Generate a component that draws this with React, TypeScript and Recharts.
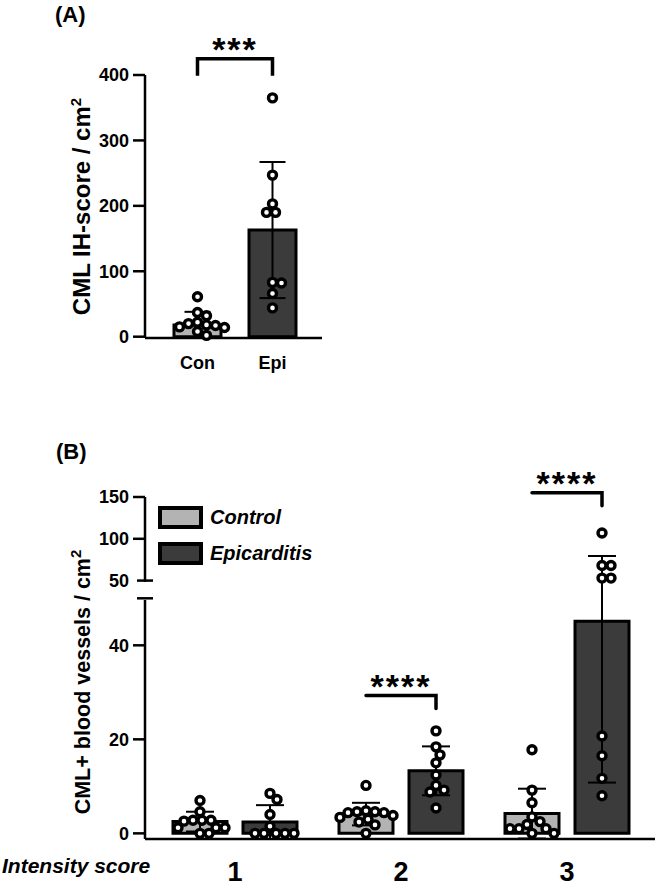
import React from 'react';
import { ComposedChart, Bar, Cell, ErrorBar, Scatter, XAxis, YAxis, ReferenceLine, Legend } from 'recharts';

const FONT = '"Liberation Sans", Arial, Helvetica, sans-serif';

// ---------- (A) CML IH-score ----------
const aGroups = ['Con', 'Epi'];
const aMeans = [18, 163];
const aSD = [20, 104];
const aCon = [61, 37, 32, 22, 20, 18, 17, 15, 14, 8, 2];
const aEpi = [365, 247, 203, 190, 190, 83, 82, 66, 44];
const aTicks = [0, 100, 200, 300, 400];
const aSigFrom = 'Con';
const aSigTo = 'Epi';
const aSigY = 425;
const aSigLabel = '***';

// ---------- (B) CML+ blood vessels ----------
const bGroups = ['1', '2', '3'];
const bSeries = ['Control', 'Epicarditis'];
const bConMean = [2.5, 4.1, 4.2];
const bConSD = [2.1, 2.4, 5.3];
const bEpiMean = [2.4, 13.3, 45.1];
const bEpiSD = [3.6, 5.2, 34.3];
const bCon = [
  [7, 4.6, 2.8, 2.8, 2.8, 2.6, 1.2, 1.2, 1.2, 0, 0],
  [10.2, 4.8, 4.6, 4.6, 4.4, 4.4, 3.8, 3.4, 3.0, 2.4, 1.8, 0],
  [17.8, 9.2, 6.5, 3.5, 2.5, 1.9, 1, 1, 1, 0, 0],
];
const bEpi = [
  [8.5, 7.2, 4, 1.5, 0, 0, 0, 0, 0],
  [21.8, 18.4, 16.7, 15, 12.4, 10.2, 9.2, 8.8, 5.4],
  [107, 68, 68, 53, 53, 20.7, 16.5, 11.7, 8],
];
const bLowerTicks = [0, 20, 40];
const bUpperTicks = [50, 100, 150];
const bSigGroups = ['2', '3'];
const bSigY = [29.3, 155];
const bSigLabels = ['****', '****'];

// broken y axis for (B): 0-50 linear, then a gap, then 50-150 compressed
const BREAK = 50;
const GAP = 3.77;
const K = 0.1778;
const toUp = (v: number) => BREAK + GAP + (v - BREAK) * K;
const toD = (v: number) => (v <= BREAK ? v : toUp(v));
const B_TOP = toUp(150);

// layout
const A_PLOT_H = 263;
const B_PLOT_H = 342;
const A_BAR = 47;
const B_BAR = 54;
const B_GAP = 16;
const B_SHIFT = (B_BAR + B_GAP) / 2;
const TICK = 12;
const TICK_M = 4;

const CON_FILL = '#b3b3b3';
const EPI_FILL = '#3b3b3b';

// simple beeswarm, offsets in px
const swarm = (vals: number[], ppu: number, d = 10) => {
  const idx = vals.map((_, i) => i).sort((a, b) => vals[b] - vals[a]);
  const placed: [number, number][] = [];
  const out = vals.map(() => 0);
  for (const i of idx) {
    const y = vals[i] * ppu;
    for (let t = 0; t < 400; t++) {
      const dx = (t % 2 ? 1 : -1) * Math.ceil(t / 2);
      if (placed.every(([px, py]) => Math.hypot(px - dx, py - y) >= d)) {
        out[i] = dx;
        placed.push([dx, y]);
        break;
      }
    }
  }
  return out;
};

const aBars = aGroups.map((g, i) => ({ g, m: aMeans[i], e: aSD[i] }));
const aPts = [aCon, aEpi].flatMap((vals, gi) => {
  const k = swarm(vals, A_PLOT_H / 400, 9);
  return vals.map((v, j) => ({ g: aGroups[gi], v, k: k[j] }));
});

const errOf = (m: number, sd: number) => [toD(m) - toD(m - sd), toD(m + sd) - toD(m)];
const bBars = bGroups.map((g, i) => ({
  g,
  con: toD(bConMean[i]),
  epi: toD(bEpiMean[i]),
  conErr: errOf(bConMean[i], bConSD[i]),
  epiErr: errOf(bEpiMean[i], bEpiSD[i]),
}));
const bPts = (sets: number[][]) =>
  sets.flatMap((vals, gi) => {
    const dv = vals.map(toD);
    const k = swarm(dv, B_PLOT_H / B_TOP, 8.8);
    return dv.map((d, j) => ({ g: bGroups[gi], d, k: k[j] }));
  });
const bConPts = bPts(bCon);
const bEpiPts = bPts(bEpi);

const bTickVals = [...bLowerTicks.map(toD), BREAK, ...bUpperTicks.map(toUp)];
const bTickText = [...bLowerTicks.map(String), '', ...bUpperTicks.map(String)];

const tickFont = { fill: '#000', fontSize: 18, fontWeight: 'bold', fontFamily: FONT };
const axisStroke = { stroke: '#000', strokeWidth: 2.5 };

const dot = (shift: number) => (p: any) => (
  <circle cx={p.cx + shift + (p.payload?.k ?? 0)} cy={p.cy} r={4} fill="#fff" stroke="#000" strokeWidth={3.4} />
);

const Bracket = ({ x1, x2, y, text, legs, spread, leg }: any) => {
  const l = x1 - spread;
  const r = x2 + spread;
  const d =
    legs === 2
      ? `M${l},${y + leg} L${l},${y} L${r},${y} L${r},${y + leg}`
      : `M${l},${y} L${r},${y} L${r},${y + leg}`;
  return (
    <g>
      <path d={d} fill="none" stroke="#000" strokeWidth={3.5} strokeLinecap={legs === 2 ? 'butt' : 'round'} />
      <text x={(l + r) / 2} y={y + 2} textAnchor="middle" fontSize={34} fontWeight="bold" fontFamily={FONT} letterSpacing={2}>
        {text}
      </text>
    </g>
  );
};

const YTitle = ({ viewBox, text, size, shift = 0 }: any) => {
  const cx = viewBox.x + 90;
  const cy = viewBox.y + viewBox.height / 2 + shift;
  return (
    <text x={cx} y={cy} transform={`rotate(-90 ${cx} ${cy})`} textAnchor="middle" fontSize={size} fontWeight="bold" fontFamily={FONT} fill="#000">
      {text}
      <tspan dy={-9} fontSize={15}>2</tspan>
    </text>
  );
};

const XTitle = ({ viewBox }: any) => (
  <text x={viewBox.x - 143} y={viewBox.y + 34} fontSize={21} fontStyle="italic" fontWeight="bold" fontFamily={FONT} fill="#000">
    Intensity score
  </text>
);

const BTick = (p: any) => {
  const v = p.payload.value;
  const i = bTickVals.findIndex((t) => Math.abs(t - v) < 1e-6);
  const ax = p.x + TICK + TICK_M;
  const isBreak = Math.abs(v - BREAK) < 1e-6 || Math.abs(v - toUp(BREAK)) < 1e-6;
  return (
    <g>
      {isBreak ? (
        <line x1={ax - 8} x2={ax + 8} y1={p.y} y2={p.y} stroke="#000" strokeWidth={2.5} />
      ) : (
        <line x1={ax - TICK} x2={ax} y1={p.y} y2={p.y} stroke="#000" strokeWidth={2.5} />
      )}
      <text x={p.x} y={p.y} dy="0.355em" textAnchor="end" {...tickFont}>
        {bTickText[i]}
      </text>
    </g>
  );
};

const LegendBoxes = ({ payload }: any) => (
  <div>
    {(payload || [])
      .filter((p: any) => bSeries.includes(p.value))
      .map((p: any) => (
        <div key={p.value} style={{ display: 'flex', alignItems: 'center', height: 36 }}>
          <div style={{ width: 37, height: 15, background: p.color, border: '4px solid #000' }} />
          <span style={{ marginLeft: 7, fontFamily: FONT, fontStyle: 'italic', fontWeight: 'bold', fontSize: 20, color: '#000' }}>
            {p.value}
          </span>
        </div>
      ))}
  </div>
);

const bUpperDash = (B_TOP - toUp(BREAK)) * (B_PLOT_H / B_TOP);
const bGapDash = GAP * (B_PLOT_H / B_TOP);
const bLowerDash = BREAK * (B_PLOT_H / B_TOP);

export default function App() {
  return (
    <div style={{ position: 'absolute', left: 0, top: 0, width: 664, height: 892, background: '#fff', fontFamily: FONT }}>
      <svg style={{ position: 'absolute', left: 0, top: 0 }} width={664} height={892}>
        <text x={55} y={22} fontSize={22} fontWeight="bold" fontFamily={FONT}>(A)</text>
        <text x={56} y={459} fontSize={22} fontWeight="bold" fontFamily={FONT}>(B)</text>
      </svg>

      <div style={{ position: 'absolute', left: 0, top: 0 }}>
        <ComposedChart width={340} height={378} data={aBars} margin={{ top: 75, right: 18, bottom: 0, left: 0 }}>
          <XAxis
            dataKey="g"
            type="category"
            allowDuplicatedCategory={false}
            padding={{ left: 15, right: 12 }}
            height={40}
            tickLine={false}
            tickMargin={12}
            axisLine={axisStroke}
            tick={tickFont}
          />
          <YAxis
            domain={[0, 400]}
            ticks={aTicks}
            interval={0}
            width={145}
            tickSize={TICK}
            tickMargin={TICK_M}
            axisLine={axisStroke}
            tickLine={axisStroke}
            tick={tickFont}
            label={<YTitle text="CML IH-score / cm" size={24} />}
          />
          <Bar dataKey="m" barSize={A_BAR} stroke="#000" strokeWidth={3} isAnimationActive={false}>
            {aBars.map((b, i) => (
              <Cell key={b.g} fill={i === 0 ? CON_FILL : EPI_FILL} />
            ))}
            <ErrorBar dataKey="e" width={13} stroke="#000" strokeWidth={2} isAnimationActive={false} />
          </Bar>
          <Scatter data={aPts} dataKey="v" shape={dot(0)} legendType="none" isAnimationActive={false} />
          <ReferenceLine
            segment={[{ x: aSigFrom, y: aSigY }, { x: aSigTo, y: aSigY }]}
            ifOverflow="visible"
            shape={(p: any) => <Bracket x1={p.x1} x2={p.x2} y={p.y1} text={aSigLabel} legs={2} spread={0} leg={17} />}
          />
        </ComposedChart>
      </div>

      <div style={{ position: 'absolute', left: 0, top: 440 }}>
        <ComposedChart width={664} height={449} data={bBars} barGap={B_GAP} margin={{ top: 57, right: 9, bottom: 0, left: 0 }}>
          <XAxis
            dataKey="g"
            type="category"
            allowDuplicatedCategory={false}
            padding={{ left: 7, right: 5 }}
            height={50}
            tickLine={false}
            tickMargin={17}
            axisLine={axisStroke}
            tick={{ ...tickFont, fontSize: 27 }}
            label={<XTitle />}
          />
          <YAxis
            domain={[0, B_TOP]}
            ticks={bTickVals}
            interval={0}
            width={145}
            tickSize={TICK}
            tickMargin={TICK_M}
            tickLine={false}
            axisLine={{ ...axisStroke, strokeDasharray: `${bUpperDash} ${bGapDash} ${bLowerDash + 5}` }}
            tick={<BTick />}
            label={<YTitle text="CML+ blood vessels / cm" size={21.5} shift={14} />}
          />
          <Legend
            layout="horizontal"
            verticalAlign="middle"
            align="center"
            content={<LegendBoxes />}
            wrapperStyle={{ top: 59, left: 158, width: 200, height: 80 }}
          />
          <Bar dataKey="con" name={bSeries[0]} barSize={B_BAR} fill={CON_FILL} stroke="#000" strokeWidth={3} isAnimationActive={false}>
            <ErrorBar dataKey="conErr" width={14} stroke="#000" strokeWidth={2} isAnimationActive={false} />
          </Bar>
          <Bar dataKey="epi" name={bSeries[1]} barSize={B_BAR} fill={EPI_FILL} stroke="#000" strokeWidth={3} isAnimationActive={false}>
            <ErrorBar dataKey="epiErr" width={14} stroke="#000" strokeWidth={2} isAnimationActive={false} />
          </Bar>
          <Scatter data={bConPts} dataKey="d" shape={dot(-B_SHIFT)} legendType="none" isAnimationActive={false} />
          <Scatter data={bEpiPts} dataKey="d" shape={dot(B_SHIFT)} legendType="none" isAnimationActive={false} />
          {bSigGroups.map((g, i) => (
            <ReferenceLine
              key={g}
              segment={[{ x: g, y: toD(bSigY[i]) }, { x: g, y: toD(bSigY[i]) }]}
              ifOverflow="visible"
              shape={(p: any) => (
                <Bracket x1={p.x1} x2={p.x2} y={p.y1} text={bSigLabels[i]} legs={1} spread={B_SHIFT} leg={13} />
              )}
            />
          ))}
        </ComposedChart>
      </div>
    </div>
  );
}
